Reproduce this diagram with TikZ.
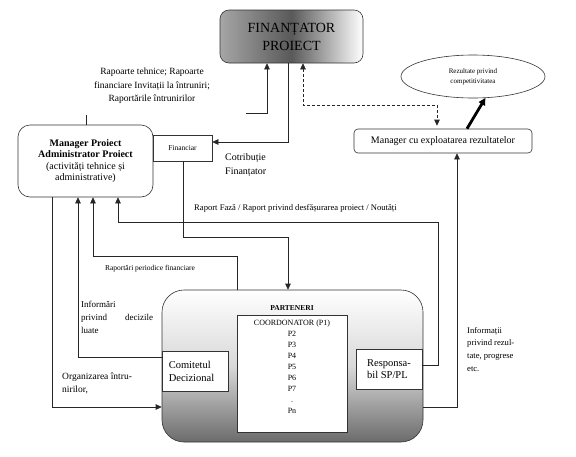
\documentclass[tikz,border=0pt]{standalone}
\usepackage{fontspec}
\setmainfont{Liberation Serif}
\usetikzlibrary{arrows.meta,shapes.geometric}
\begin{document}
\begin{tikzpicture}[x=1pt,y=-1pt,
  conn/.style={draw=black!85,line width=0.6pt},
  arr/.style={conn,-{Triangle[length=6pt,width=5.5pt]}},
  arrs/.style={conn,{Triangle[length=6pt,width=5.5pt]}-{Triangle[length=6pt,width=5.5pt]}},
  box/.style={draw=black!80,line width=0.6pt,inner sep=0pt,align=center},
  lbl/.style={inner sep=0pt,font=\fontsize{9.5}{13.5}\selectfont},
  small/.style={inner sep=0pt,font=\fontsize{7.5}{10}\selectfont}]
\useasboundingbox[fill=white] (0,0) rectangle (576,456);

% main nodes
\node[box,rounded corners=9pt,minimum width=143pt,minimum height=53pt,
  left color=black!35,right color=white,middle color=black!65,
  font=\fontsize{14}{18}\selectfont] (fin) at (291.5,36.5) {FINANȚATOR\\PROIECT};
\node[box,ellipse,minimum width=144pt,minimum height=43pt,
  font=\fontsize{7}{10}\selectfont] (ell) at (473,76.5) {Rezultate privind\\competitivitatea};
\node[box,rounded corners=4pt,minimum width=178pt,minimum height=24pt,
  font=\fontsize{10}{12}\selectfont] (mce) at (443,141) {Manager cu exploatarea rezultatelor};
\node[box,rounded corners=12pt,minimum width=135pt,minimum height=72pt,
  font=\fontsize{10}{11.5}\selectfont] (mgr) at (85.5,161)
  {\textbf{Manager Proiect}\\\textbf{Administrator Proiect}\\(activități tehnice și\\administrative)};
\node[box,minimum width=59pt,minimum height=26pt,
  font=\fontsize{7.5}{9}\selectfont] (finc) at (182.5,148) {Financiar};
\node[box,rounded corners=22pt,minimum width=261pt,minimum height=152pt,
  top color=white,bottom color=black!58,middle color=black!15] (part) at (292.5,366) {};
\node[inner sep=0pt,font=\fontsize{7.5}{9}\selectfont\bfseries] (pt) at (292,308) {PARTENERI};
\node[box,fill=white,minimum width=110pt,minimum height=117pt,anchor=north] (inner) at (292,315) {};
\node[inner sep=0pt,anchor=north,align=center,font=\fontsize{8}{11}\selectfont] (plist) at (292,320)
  {COORDONATOR (P1)\\P2\\P3\\P4\\P5\\P6\\P7\\.\\Pn};
\node[box,fill=white,minimum width=66pt,minimum height=40pt,align=left,
  font=\fontsize{10.5}{13}\selectfont] (com) at (195,371) {\hspace*{1pt}Comitetul\hspace*{8pt}\\\hspace*{1pt}Decizional\hspace*{8pt}};
\node[box,fill=white,minimum width=66pt,minimum height=40pt,align=left,
  font=\fontsize{10.5}{12.5}\selectfont] (resp) at (389,369) {Responsa-\\bil SP/PL};

% labels
\node[lbl,align=center] (t1) at (152,86) {Rapoarte tehnice; Rapoarte\\financiare Invitații la întruniri;\\Raportările întrunirilor};
\node[lbl,align=left,anchor=west,font=\fontsize{10}{14}\selectfont] (t2) at (225,165) {Cotribuție\\Finanțator};
\node[lbl,anchor=west,font=\fontsize{8.6}{10}\selectfont] (t3) at (194,208) {Raport Fază / Raport privind desfășurarea proiect / Noutăți};
\node[small] (t4) at (150,269) {Raportări periodice financiare};
\node[lbl,anchor=north west,align=left,text width=72pt,font=\fontsize{9}{13}\selectfont] (t5) at (81,301) {Informări\\privind\hfill decizile\\luate};
\node[lbl,anchor=west,align=left,font=\fontsize{9.5}{13}\selectfont] (t6) at (62,383) {Organizarea întru-\\nirilor,};
\node[lbl,anchor=north west,align=left,font=\fontsize{8.6}{12.7}\selectfont] (t7) at (467,327) {Informații\\privind rezul-\\tate, progrese\\etc.};

% coordinates
\coordinate (c1a) at (246,113);
\coordinate (c1b) at (267,113);
\coordinate (c2) at (288,142);
\coordinate (c3a) at (303,105);
\coordinate (c3b) at (437,105);
\coordinate (c4) at (467,0);
\coordinate (c5) at (457,407);
\coordinate (c6a) at (183,237);
\coordinate (c6b) at (288,237);
\coordinate (c7a) at (438,365);
\coordinate (c7b) at (438,222);
\coordinate (c7c) at (118,222);
\coordinate (c8a) at (237,256);
\coordinate (c8b) at (93,256);
\coordinate (c9) at (78,357);
\coordinate (c10) at (52,407);
\coordinate (c11) at (86,115);

% connectors
\draw[arr] (c1a) -- (c1b) -- (c1b |- fin.south);
\draw[arr] (c2 |- fin.south) -- (c2) -- (c2 -| finc.east);
\draw[arrs,dashed,dash pattern=on 3pt off 2pt,shorten >=3pt] (c3a |- fin.south) -- (c3a) -- (c3b) -- (c3b |- mce.north);
\draw[line width=2.8pt,-{Triangle[length=7pt,width=7pt]}] (c4 |- mce.north) -- (ell.-60);
\draw[arr] (c5 -| part.east) -- (c5) -- (c5 |- mce.south);
\draw[arr] (c6a |- finc.south) -- (c6a) -- (c6b) -- (c6b |- part.north);
\draw[arr] (c7a -| resp.east) -- (c7a) -- (c7b) -- (c7c) -- (c7c |- mgr.south);
\draw[arr] (c8a |- part.north) -- (c8a) -- (c8b) -- (c8b |- mgr.south);
\draw[arr] (c9 -| com.west) -- (c9) -- (c9 |- mgr.south);
\draw[arr] (c10 |- mgr.south) -- (c10) -- (c10 -| part.west);
\draw[conn] (c11 |- mgr.north) -- (c11);
\end{tikzpicture}
\end{document}
